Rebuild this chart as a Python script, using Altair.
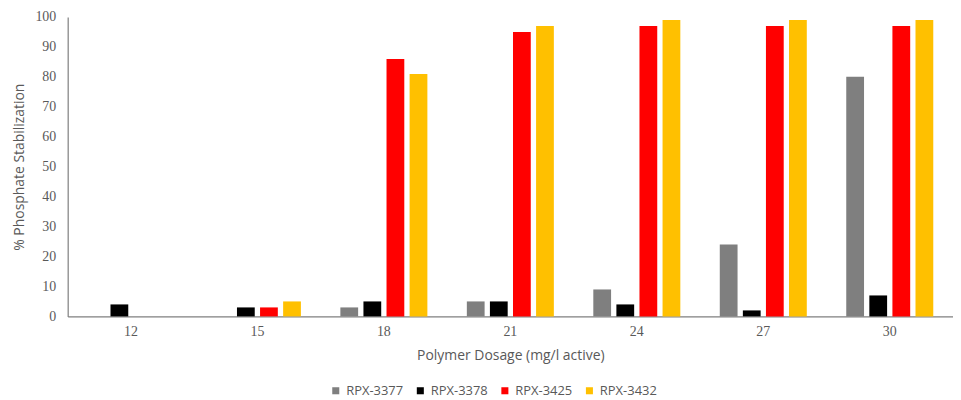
import altair as alt
import pandas as pd

dosages = ["12", "15", "18", "21", "24", "27", "30"]
series = ["RPX-3377", "RPX-3378", "RPX-3425", "RPX-3432"]
rpx_3377 = [0, 0, 3, 5, 9, 24, 80]
rpx_3378 = [4, 3, 5, 5, 4, 2, 7]
rpx_3425 = [0, 3, 86, 95, 97, 97, 97]
rpx_3432 = [0, 5, 81, 97, 99, 99, 99]
colors = ["#7f7f7f", "#000000", "#ff0000", "#ffc000"]

rows = []
for name, vals in zip(series, [rpx_3377, rpx_3378, rpx_3425, rpx_3432]):
    for d, v in zip(dosages, vals):
        rows.append({"dosage": d, "series": name, "value": v})
df = pd.DataFrame(rows)

label_font = "Liberation Serif"
text_font = "Open Sans"
gray = "#595959"

chart = alt.Chart(df).mark_bar().encode(
    x=alt.X("dosage:N", sort=dosages, title="Polymer Dosage (mg/l active)",
            scale=alt.Scale(paddingInner=0.27, paddingOuter=0.135),
            axis=alt.Axis(labelAngle=0, ticks=False, labelPadding=8, titlePadding=10,
                          labelFont=label_font, labelFontSize=14, labelColor=gray,
                          titleFont=text_font, titleFontSize=14, titleFontWeight="normal",
                          titleColor=gray, domainColor="#7f7f7f", domainWidth=1.2)),
    xOffset=alt.XOffset("series:N", sort=series,
                        scale=alt.Scale(paddingInner=0.23, paddingOuter=0.115)),
    y=alt.Y("value:Q", title="% Phosphate Stabilization",
            scale=alt.Scale(domain=[0, 100], nice=False),
            axis=alt.Axis(values=list(range(0, 101, 10)), grid=False, ticks=False,
                          labelPadding=12, titlePadding=8,
                          labelFont=label_font, labelFontSize=14, labelColor=gray,
                          titleFont=text_font, titleFontSize=14, titleFontWeight="normal",
                          titleColor=gray, domainColor="#7f7f7f", domainWidth=1.2)),
    color=alt.Color("series:N", sort=series,
                    scale=alt.Scale(domain=series, range=colors),
                    legend=alt.Legend(title=None, orient="none", direction="horizontal",
                                      legendX=263, legendY=369,
                                      symbolType="square", symbolSize=50, symbolStrokeWidth=0,
                                      labelFont=text_font, labelFontSize=13, labelColor=gray,
                                      labelOffset=4, columnPadding=10)),
).properties(
    width=890, height=301,
    padding={"left": 5, "top": 1, "right": 0, "bottom": 0},
).configure_view(stroke=None)

chart.save("out.html", embed_options={"renderer": "svg", "actions": False})
